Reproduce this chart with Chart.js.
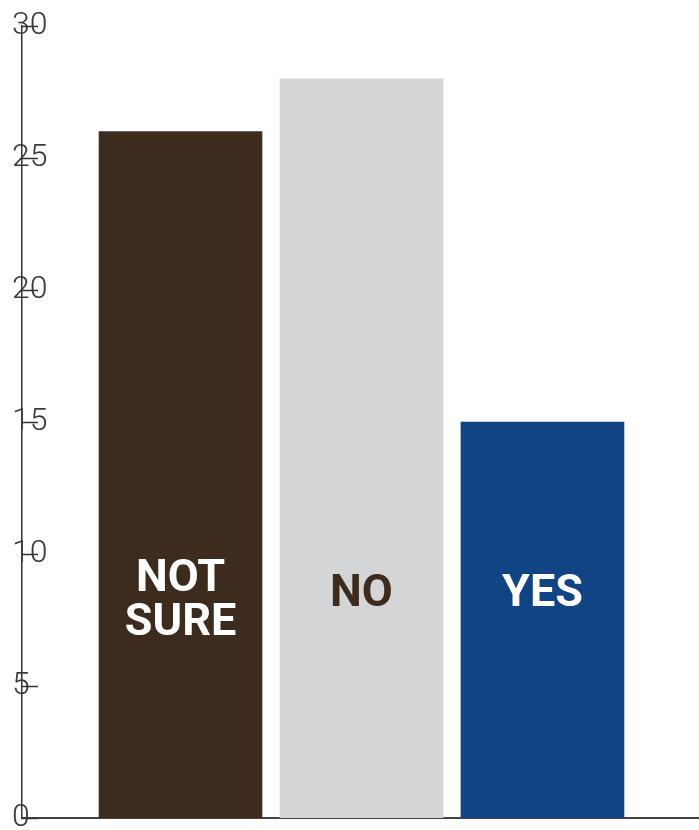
<!DOCTYPE html>
<html>
<head>
<meta charset="utf-8">
<script src="https://cdn.jsdelivr.net/npm/chart.js@4/dist/chart.umd.min.js"></script>
<style>
  body { margin: 0; background: #fff; }
  canvas { display: block; }
</style>
</head>
<body>
<canvas id="grafico" width="699" height="830"></canvas>
<script>
// dados do grafico
var categorias = ['NOT SURE', 'NO', 'YES'];
var rotulos = [['NOT', 'SURE'], ['NO'], ['YES']];
var valores = [26, 28, 15];
var cores = ['#3d2c1d', '#d4d5d7', '#114484'];
var coresTexto = ['#ffffff', '#3d2c1d', '#ffffff'];
var yTicks = [0, 5, 10, 15, 20, 25, 30];

// marcas do eixo y para dentro do grafico
var marcasEixo = {
    id: 'marcasEixo',
    afterDraw: function(chart) {
        var ctx = chart.ctx;
        var y = chart.scales.y;
        ctx.save();
        ctx.strokeStyle = '#333';
        ctx.lineWidth = 1.5;
        yTicks.forEach(function(v) {
            var py = Math.round(y.getPixelForValue(v)) + 0.5;
            ctx.beginPath();
            ctx.moveTo(y.right, py);
            ctx.lineTo(y.right + 16, py);
            ctx.stroke();
        });
        ctx.restore();
    }
};

// texto dentro das barras
var textoBarras = {
    id: 'textoBarras',
    afterDatasetsDraw: function(chart) {
        var ctx = chart.ctx;
        var meta = chart.getDatasetMeta(0);
        var y = chart.scales.y;
        ctx.save();
        ctx.font = 'bold 45px Roboto';
        ctx.textAlign = 'center';
        ctx.textBaseline = 'middle';
        meta.data.forEach(function(bar, i) {
            var linhas = rotulos[i];
            var centro = y.getPixelForValue(linhas.length > 1 ? 8.2 : 8.45);
            var alt = 44;
            var inicio = centro - (linhas.length - 1) * alt / 2;
            ctx.fillStyle = coresTexto[i];
            linhas.forEach(function(l, j) {
                ctx.fillText(l, bar.x, inicio + j * alt);
            });
        });
        ctx.restore();
    }
};

var contexto = document.getElementById('grafico').getContext('2d');
var grafico = new Chart(contexto, {
    type: 'bar',
    data: {
        datasets: [{
            label: 'Respostas',
            data: valores.map(function(v, i) { return {x: i, y: v}; }),
            backgroundColor: cores,
            barThickness: 163,
            borderWidth: 0
        }]
    },
    options: {
        responsive: false,
        animation: false,
        layout: { padding: { top: 26, bottom: 12, left: 0, right: 0 } },
        plugins: { legend: { display: false }, tooltip: { enabled: false } },
        scales: {
            x: {
                type: 'linear',
                offset: false,
                min: -0.876,
                max: 2.865,
                grid: { display: false, drawTicks: false, offset: false },
                ticks: { display: false },
                border: { color: '#444', width: 2 }
            },
            y: {
                min: 0,
                max: 30,
                afterFit: function(scale) { scale.width = 22; },
                afterBuildTicks: function(scale) {
                    scale.ticks = yTicks.map(function(v) { return {value: v}; });
                },
                grid: { display: false, drawTicks: false },
                border: { color: '#333', width: 1.5 },
                ticks: {
                    mirror: true,
                    padding: -10,
                    crossAlign: 'near',
                    color: '#3a3a3a',
                    font: { family: 'Roboto', size: 32, weight: 300 }
                }
            }
        }
    },
    plugins: [marcasEixo, textoBarras]
});
</script>
</body>
</html>
